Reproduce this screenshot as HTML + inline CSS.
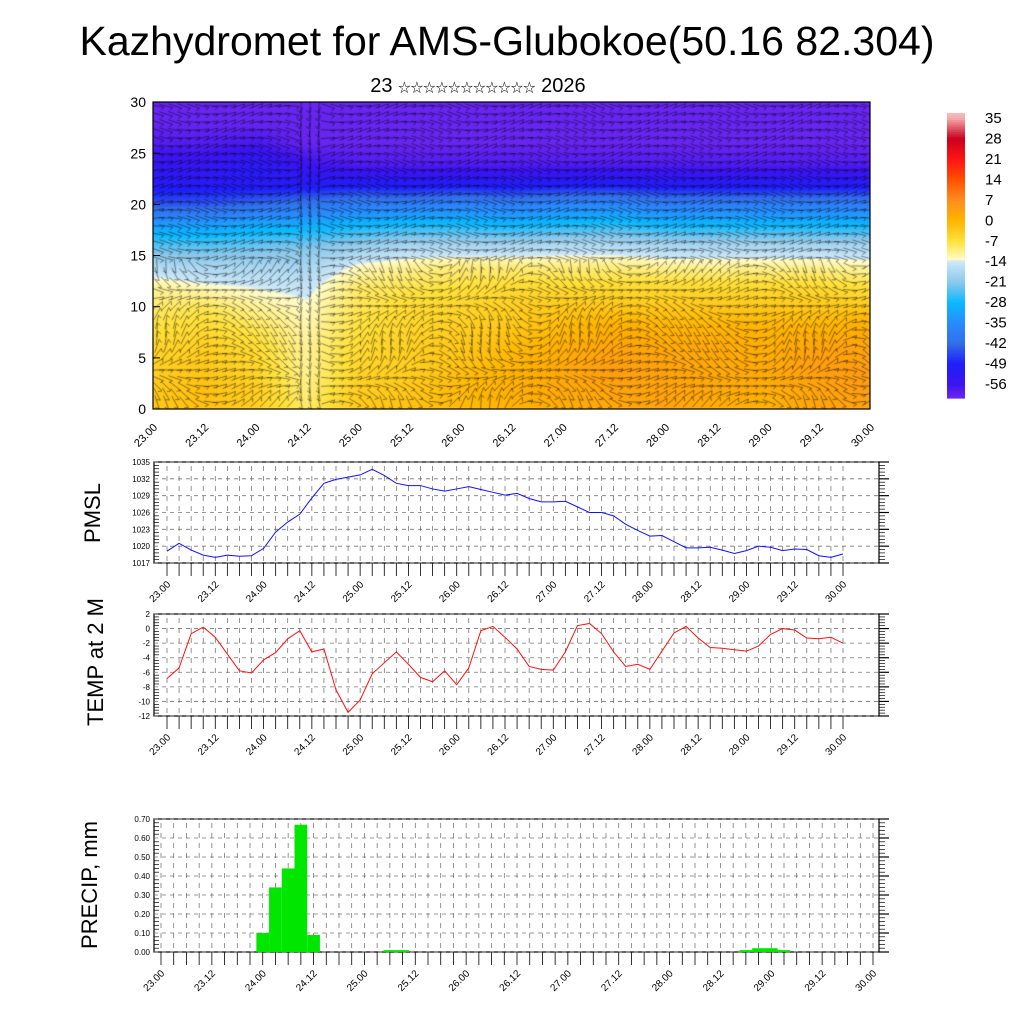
<!DOCTYPE html>
<html><head><meta charset="utf-8"><style>
html,body{margin:0;padding:0;background:#fff;}
#wrap{position:relative;width:1024px;height:1024px;overflow:hidden;font-family:"Liberation Sans","Noto Sans CJK SC",sans-serif;}
canvas{position:absolute;left:153px;top:102px;}
svg{position:absolute;left:0;top:0;}
</style></head><body>
<div id="wrap">
<canvas id="heat" width="717" height="307"></canvas>
<svg id="svg" width="1024" height="1024" xmlns="http://www.w3.org/2000/svg">
<text x="507" y="55" font-size="41" text-anchor="middle" textLength="855">Kazhydromet for AMS-Glubokoe(50.16 82.304)</text>
<text x="478" y="92" font-size="20" text-anchor="middle">23 <tspan font-size="12.5">☆☆☆☆☆☆☆☆☆☆☆</tspan> 2026</text>
<text transform="translate(100,513) rotate(-90)" font-size="22" text-anchor="middle">PMSL</text>
<text transform="translate(103,662) rotate(-90)" font-size="22" text-anchor="middle">TEMP at 2 M</text>
<text transform="translate(97,885) rotate(-90)" font-size="22" text-anchor="middle">PRECIP, mm</text>
<g id="g"></g>
</svg>
</div>
<script>
// ---- data ----
const timeLabels = ["23.00","23.12","24.00","24.12","25.00","25.12","26.00","26.12","27.00","27.12","28.00","28.12","29.00","29.12","30.00"];
const pmsl = [1019.1,1020.5,1019.3,1018.4,1018.0,1018.4,1018.2,1018.3,1019.6,1022.5,1024.3,1025.7,1028.6,1031.2,1031.9,1032.3,1032.7,1033.7,1032.6,1031.2,1030.8,1030.8,1030.2,1029.8,1030.2,1030.6,1030.1,1029.6,1029.1,1029.4,1028.5,1027.9,1027.9,1028.0,1027.0,1026.0,1026.0,1025.4,1023.9,1022.8,1021.8,1021.9,1020.8,1019.7,1019.7,1019.8,1019.3,1018.7,1019.2,1020.0,1019.8,1019.2,1019.5,1019.4,1018.3,1018.0,1018.6];
const temp2m = [-6.85,-5.4,-0.7,0.2,-1.2,-3.5,-5.8,-6.1,-4.3,-3.3,-1.4,-0.3,-3.2,-2.8,-8.4,-11.5,-9.8,-6.2,-4.7,-3.2,-4.9,-6.7,-7.3,-5.8,-7.7,-5.4,-0.3,0.3,-1.2,-2.8,-5.2,-5.6,-5.7,-3.2,0.4,0.7,-0.7,-3.2,-5.2,-4.9,-5.6,-3.1,-0.6,0.3,-1.3,-2.6,-2.7,-2.9,-3.1,-2.4,-0.8,0.0,-0.2,-1.3,-1.4,-1.2,-2.0];
const precip = [0,0,0,0,0,0,0,0,0.10,0.34,0.44,0.67,0.09,0,0,0,0,0,0.01,0.01,0,0,0,0,0,0,0,0,0,0,0,0,0,0,0,0,0,0,0,0,0,0,0,0,0,0,0.01,0.02,0.02,0.01,0,0,0,0,0,0,0];
const pmslTicks = [1017,1020,1023,1026,1029,1032,1035];
const tempTicks = [-12,-10,-8,-6,-4,-2,0,2];
const precipTicks = ["0.00","0.10","0.20","0.30","0.40","0.50","0.60","0.70"];
const heightTicks = [0,5,10,15,20,25,30];
const cbarLabels = [35,28,21,14,7,0,-7,-14,-21,-28,-35,-42,-49,-56];
// temperature field rows: height 0,2,...,30 ; columns every 12h
const tRow0  = [-3,-2,-4,-9,-3,-2,-1,0,1,2,3,1,0,3,3];
const tRow2  = [-3,-2,-4,-10,-4,-3,-1,1,2,3,3,2,1,3,4];
const tRow4  = [-4,-3,-5,-11,-5,-4,-2,0,2,4,3,2,2,4,4];
const tRow6  = [-5,-4,-6,-11,-6,-4,-3,-1,1,3,2,2,1,3,3];
const tRow8  = [-7,-6,-8,-12,-7,-5,-4,-3,-1,1,0,0,0,0,1];
const tRow10 = [-9,-8,-11,-13,-8,-6,-5,-4,-3,-3,-3,-3,-3,-3,-3];
const tRow12 = [-11,-13,-14,-15,-9,-8,-7,-6,-6,-6,-6,-6,-6,-6,-7];
const tRow14 = [-17,-18,-18,-18,-13,-11,-10,-10,-10,-10,-11,-11,-11,-11,-12];
const tRow16 = [-24,-24,-23,-22,-20,-18,-18,-18,-17,-17,-18,-18,-18,-18,-18];
const tRow18 = [-32,-32,-30,-30,-28,-27,-27,-28,-27,-26,-28,-28,-28,-28,-28];
const tRow20 = [-44,-44,-42,-40,-38,-38,-37,-38,-36,-36,-38,-38,-38,-38,-38];
const tRow22 = [-51,-51,-51,-51,-50,-51,-50,-51,-50,-50,-51,-51,-51,-51,-51];
const tRow24 = [-54,-55,-52,-56,-58,-58,-58,-58,-58,-58,-58,-58,-58,-58,-58];
const tRow26 = [-58,-58,-57,-60,-60,-60,-60,-60,-60,-60,-60,-60,-60,-60,-60];
const tRow28 = [-60,-60,-60,-60,-60,-60,-60,-60,-60,-60,-60,-60,-60,-60,-60];
const tRow30 = [-60,-60,-60,-60,-60,-60,-60,-60,-60,-60,-60,-60,-60,-60,-60];
const field = [tRow0,tRow2,tRow4,tRow6,tRow8,tRow10,tRow12,tRow14,tRow16,tRow18,tRow20,tRow22,tRow24,tRow26,tRow28,tRow30];

// ---- colormap ----
const cstops=[[38,[250,200,200]],[35,[245,170,170]],[28,[200,0,30]],[21,[255,20,20]],[14,[255,80,0]],[7,[255,140,30]],[0,[255,180,0]],[-7,[255,225,60]],[-13.5,[255,252,205]],[-14,[205,232,248]],[-21,[140,200,235]],[-28,[10,185,255]],[-35,[40,140,255]],[-42,[50,110,235]],[-49,[30,30,250]],[-56,[60,20,240]],[-62,[125,45,240]]];
function cmap(v){
  if(v>=cstops[0][0])return cstops[0][1];
  for(let i=0;i<cstops.length-1;i++){const a=cstops[i],b=cstops[i+1];
    if(v<=a[0]&&v>=b[0]){const f=(a[0]-v)/(a[0]-b[0]);return a[1].map((c,k)=>Math.round(c+(b[1][k]-c)*f));}}
  return cstops[cstops.length-1][1];
}
// ---- heatmap ----
const cv=document.getElementById('heat'),ctx=cv.getContext('2d');
const W=717,H=307,img=ctx.createImageData(W,H);
const nC=field[0].length-1;
function fval(c,r){
  const c0=Math.max(0,Math.min(nC-1,Math.floor(c))),r0=Math.max(0,Math.min(field.length-2,Math.floor(r)));
  const fc=Math.min(1,Math.max(0,c-c0)),fr=Math.min(1,Math.max(0,r-r0));
  const a=field[r0][c0],b=field[r0][c0+1],d=field[r0+1][c0],e=field[r0+1][c0+1];
  return (a*(1-fc)+b*fc)*(1-fr)+(d*(1-fc)+e*fc)*fr;
}
for(let py=0;py<H;py++){const h=(H-py)/10.23;const r=h/2;
  for(let px=0;px<W;px++){const c=px/W*nC;const col=cmap(fval(c,r));const k=(py*W+px)*4;
    img.data[k]=col[0];img.data[k+1]=col[1];img.data[k+2]=col[2];img.data[k+3]=255;}}
ctx.putImageData(img,0,0);
// wind barbs (decorative)
ctx.strokeStyle='rgba(0,0,0,0.6)';ctx.lineWidth=0.75;
for(let gy=4;gy<H;gy+=8){for(let gx=4;gx<W;gx+=9){
  const h=(H-gy)/10.23;
  let ang=0.35*Math.sin(gx*0.045+gy*0.05);
  if(h<14) ang+=1.4*Math.sin(gx*0.03+1)*Math.cos(gy*0.04);
  if(Math.abs(gx-155)<12) ang=Math.PI/2+0.2*Math.sin(gy*0.1);
  const L=14,dx=Math.cos(ang)*L,dy=Math.sin(ang)*L;
  ctx.beginPath();ctx.moveTo(gx-dx/2,gy-dy/2);ctx.lineTo(gx+dx/2,gy+dy/2);
  const bx=gx+dx/2,by=gy+dy/2;ctx.lineTo(bx+Math.cos(ang+2.2)*4,by+Math.sin(ang+2.2)*4);ctx.stroke();}}

// ---- SVG ----
const NS='http://www.w3.org/2000/svg',G=document.getElementById('g');
function el(tag,attrs,parent){const e=document.createElementNS(NS,tag);for(const k in attrs)e.setAttribute(k,attrs[k]);(parent||G).appendChild(e);return e;}
function txt(x,y,s,size,anchor,rot,name){const t=el('text',{x:x,y:y,'font-size':size,'text-anchor':anchor||'middle'});
  if(rot)t.setAttribute('transform','rotate('+rot+' '+x+' '+y+')');t.textContent=s;
  
  return t;}

// contour panel frame
const cf=el('rect',{x:153,y:102,width:717,height:307,fill:'none',stroke:'#000','stroke-width':1.2});


const cy=v=>409-v*10.23;
heightTicks.forEach(v=>{txt(146,cy(v)+5,String(v),14,'end',0,'height-tick-label');
  const l=el('line',{x1:153,x2:160,y1:cy(v),y2:cy(v),stroke:'#000'});
  
  });
timeLabels.forEach((s,i)=>{const x=153+i*717/14;txt(x+5,428,s,11,'end',-45,'contour-x-tick-label');});

// colorbar
for(let i=0;i<120;i++){const v=36.4-i*(97.4/120);const c=cmap(v);
  const r=el('rect',{x:947,y:113+i*285/120,width:18,height:285/120+0.6,fill:'rgb('+c.join(',')+')'});
  
  }
cbarLabels.forEach(v=>txt(985,117+(35-v)*2.923+6,String(v),15,'start',0,'colorbar-label'));

// generic line panel
function panel(name,top,bot,x0,x1,ticks,labels,vmin,vmax){
  const L=154,R=879;
  const ys=v=>bot-(v-vmin)/(vmax-vmin)*(bot-top);
  const xs=i=>x0+i*(x1-x0)/56;
  const fr=el('rect',{x:L,y:top,width:R-L,height:bot-top,fill:'none',stroke:'#000','stroke-width':1.2});
  
  
  ticks.forEach((v,k)=>{const y=ys(v);
    const gl=el('line',{x1:L,x2:R,y1:y,y2:y,stroke:'#777','stroke-dasharray':'4,4','stroke-width':0.8});
    
    
    const tk=el('line',{x1:R,x2:R+10,y1:y,y2:y,stroke:'#000','stroke-width':1.2});
    
    
    txt(L-4,y+3,labels[k],8,'end',0,name+'-y-tick-label');
    if(k<ticks.length-1){for(let m=1;m<5;m++){const yy=y-(ys(ticks[k])-ys(ticks[k+1]))*m/5;
      const mt=el('line',{x1:R,x2:R+6,y1:yy,y2:yy,stroke:'#000','stroke-width':0.7});
      
      
      const ml=el('line',{x1:L,x2:L+5,y1:yy,y2:yy,stroke:'#000','stroke-width':0.7});
      
      }}});
  for(let i=0;i<57;i++){const x=xs(i);
    const vg=el('line',{x1:x,x2:x,y1:top+4,y2:bot,stroke:'#666','stroke-dasharray':'5,5','stroke-width':0.7});
    
    
    const t=el('line',{x1:x,x2:x,y1:bot,y2:bot+13,stroke:'#000','stroke-width':0.8});
    
    }
  timeLabels.forEach((s,k)=>txt(xs(k*4)+4,bot+22,s,10,'end',-45,name+'-x-tick-label'));
  return {xs,ys};
}
const p1=panel('pmsl',462,563,167,843,pmslTicks,pmslTicks.map(String),1017,1035);
const l1=el('polyline',{points:pmsl.map((v,i)=>p1.xs(i)+','+p1.ys(v)).join(' '),fill:'none',stroke:'#1010ff','stroke-width':1});


const p2=panel('temp',614,716,167,843,tempTicks,tempTicks.map(String),-12,2);
const l2=el('polyline',{points:temp2m.map((v,i)=>p2.xs(i)+','+p2.ys(v)).join(' '),fill:'none',stroke:'#ff1010','stroke-width':1});


const p3=panel('precip',819,952,161,873,precipTicks.map(Number),precipTicks,0,0.7);
const bw=712/56;
precip.forEach((v,i)=>{if(v<=0)return;const y=p3.ys(v);
  const b=el('rect',{x:p3.xs(i)-bw/2,y:y,width:bw,height:952-y,fill:'#00e600'});
  
  });
</script>
</body></html>
